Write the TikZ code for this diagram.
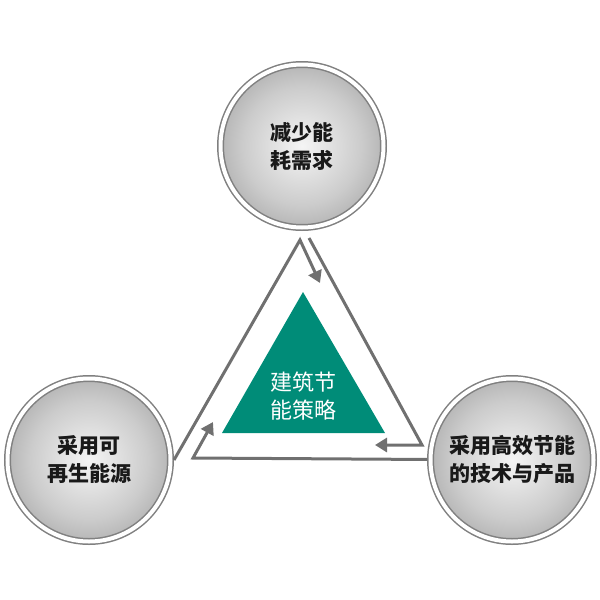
\documentclass[tikz,border=0pt]{standalone}
\usepackage{fontspec}
\setmainfont{Noto Sans CJK SC}
\usetikzlibrary{arrows.meta}
\definecolor{lineC}{RGB}{112,112,112}
\definecolor{greenC}{RGB}{0,140,120}
\pgfdeclareradialshading{ballshade}{\pgfpoint{0bp}{0bp}}{color(0bp)=(black!4); color(18bp)=(black!20); color(36bp)=(black!42); color(50bp)=(black!60)}
\tikzset{
  ball/.style={circle, minimum size=81.5pt, inner sep=0pt, outer sep=1.75pt,
    shade, shading=ballshade, draw=black!50, line width=0.75pt,
    double=white, double distance=2pt, align=center, text=black!90,
    font=\fontsize{10.5}{14}\selectfont\bfseries},
  flow/.style={draw=lineC, line width=1.5pt, -{Triangle[length=6pt,width=7pt]}}
}
\begin{document}
\begin{tikzpicture}[x=0.5pt, y=-0.5pt]
\useasboundingbox (0,0) rectangle (600,600);
%\draw[help lines, step=50] (0,0) grid (600,600);
\fill[greenC] (303,292) -- (385,433) -- (222,433) -- cycle;
\node[text=white, align=center, font=\fontsize{11}{14}\selectfont] (core) at (303,396) {建筑节\\能策略};
\node[ball] (need) at (302,146) {减少能\\耗需求};
\node[ball] (renew) at (89,460) {采用可\\再生能源};
\node[ball] (tech) at (512,460) {采用高效节能\\的技术与产品};
\coordinate (apexL) at (300,240);
\coordinate (apexR) at (309,238);
\coordinate (cornerR) at (422,445);
\coordinate (cornerL) at (193,458);
\draw[flow] (renew.east) -- (apexL) -- ++(20,43);
\draw[flow] (apexR) -- (cornerR) -- ++(-47,0);
\draw[flow] (tech) -- (cornerL) -- ++(20,-36);
\end{tikzpicture}
\end{document}
